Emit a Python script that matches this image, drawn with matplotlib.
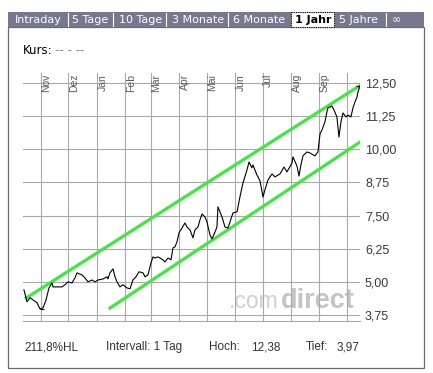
import numpy as np
import pandas as pd
import matplotlib
matplotlib.use("Agg")
import matplotlib.pyplot as plt
import matplotlib.transforms as mtransforms
from matplotlib.patches import Rectangle

# price series: days after 2006-11-01, closing price
day = [-18.6, -15.3, -12.0, -8.7, -4.4, -1.1, 2.2, 5.5, 8.7, 12.0, 13.1, 18.6, 22.9, 26.2,
       29.5, 33.8, 37.1, 39.3, 44.8, 48.0, 51.3, 55.7, 59.0, 62.2, 67.7, 72.1, 73.1, 75.3,
       78.6, 80.8, 83.0, 86.2, 89.5, 93.9, 97.2, 100.4, 103.7, 107.0, 111.4, 113.5, 116.8,
       120.1, 122.3, 124.5, 127.7, 129.9, 133.2, 135.4, 138.6, 141.9, 144.1, 146.3, 148.5,
       150.7, 153.9, 157.2, 159.4, 162.7, 165.9, 168.1, 171.4, 173.6, 175.8, 179.0, 181.2,
       184.5, 186.7, 190.0, 192.1, 193.2, 197.6, 200.9, 204.1, 209.6, 214.0, 217.2, 220.5,
       224.9, 227.1, 230.3, 231.4, 235.8, 239.1, 242.4, 244.5, 247.8, 252.2, 255.5, 260.9,
       265.3, 268.6, 274.0, 275.1, 279.5, 281.7, 283.8, 286.0, 290.4, 293.7, 299.1, 302.4,
       304.6, 306.8, 310.0, 312.2, 313.3, 317.7, 319.9, 323.1, 325.3, 327.5, 329.7, 333.0,
       335.2, 338.4, 340.6, 342.8, 345.0, 346.1, 348.3]
kurs = [4.70, 4.25, 4.40, 4.32, 4.21, 3.98, 4.02, 4.32, 4.77, 4.96, 4.81, 4.81, 4.81, 4.89,
        5.00, 4.96, 5.15, 5.34, 5.26, 5.15, 5.00, 5.07, 5.00, 5.07, 5.11, 5.19, 5.11, 5.34,
        5.49, 5.19, 5.00, 4.81, 4.89, 4.77, 4.74, 5.07, 5.19, 5.38, 5.34, 5.19, 5.26,
        5.72, 5.94, 5.90, 5.94, 5.90, 5.83, 5.75, 5.90, 5.83, 6.28, 6.32, 6.51,
        6.85, 7.03, 7.22, 7.07, 6.96, 6.66, 6.96, 7.07, 7.34, 7.56, 7.45, 7.26,
        6.77, 6.62, 6.88, 7.07, 7.83, 7.45, 7.07, 7.03, 7.60, 7.64, 8.20, 8.73,
        9.22, 9.52, 9.30, 9.41, 9.03, 8.81, 8.20, 8.47, 8.84, 9.07, 8.96, 9.07,
        9.33, 9.15, 9.48, 9.71, 9.37, 8.99, 9.41, 9.75, 9.90, 9.86, 9.75, 9.90,
        10.58, 10.73, 11.03, 11.41, 11.56, 11.63, 11.48, 11.22, 10.46, 11.03, 11.37, 11.22,
        11.29, 11.22, 11.56, 11.78, 11.97, 12.16, 12.38]

# trend channel
upper_day = [-17.5, 349.0]
upper_val = [4.36, 12.42]
lower_day = [74.0, 350.0]
lower_val = [3.98, 10.31]

hoch = 12.38
tief = 3.97
hoch_day = [344.0, 350.5]
tief_day = [-1.5, 3.5]

monate = ["Nov", "Dez", "Jan", "Feb", "Mär", "Apr", "Mai", "Jun", "Jul", "Aug", "Sep"]
kurs_ticks = [3.75, 5.00, 6.25, 7.50, 8.75, 10.00, 11.25, 12.50]
tabs = ["Intraday", "5 Tage", "10 Tage", "3 Monate", "6 Monate", "1 Jahr", "5 Jahre", "\u221e"]

start = pd.Timestamp("2006-11-01")
def to_date(d):
    return start + pd.to_timedelta(np.asarray(d), unit="D")

W, H = 433, 373
fig = plt.figure(figsize=(W / 100, H / 100), dpi=100)

# background layer in pixel coordinates
bg = fig.add_axes([0, 0, 1, 1])
bg.set_xlim(0, W)
bg.set_ylim(H, 0)
bg.axis("off")

bg.add_patch(Rectangle((8, 27), 416, 341, fill=False, ec="#6a6a6a", lw=0.9))
bg.add_patch(Rectangle((8, 12), 416, 15, fc="#77778f", ec="none"))
tab_x = [15, 72, 119, 172, 233, 295, 339, 392]
for x in [68, 113, 166, 228, 386]:
    bg.plot([x, x], [13, 26], color="white", lw=0.8)
bg.add_patch(Rectangle((291, 12), 43, 15, fc="white", ec="black", lw=0.8, ls=(0, (1, 1))))
for t, x in zip(tabs, tab_x):
    sel = t == "1 Jahr"
    bg.text(x, 20, t, fontsize=8, family="DejaVu Sans", va="center", ha="left",
            color="black" if sel else "white", fontweight="bold" if sel else "normal")

bg.text(23, 51, "Kurs:", fontsize=8.5, family="DejaVu Sans", va="center", color="black")
bg.text(55, 51, "-- - --", fontsize=8.5, family="DejaVu Sans", va="center", color="#888888")

# watermark
bg.text(229, 308, ".com", fontsize=16.5, family="Liberation Sans", color="#d0d0d0",
        va="baseline")
bg.text(355, 308, "direct", fontsize=19.5, family="Liberation Sans", fontweight="bold",
        color="#c4c4c4", va="baseline", ha="right")

info = [(24, "211,8%HL"), (106, "Intervall: 1 Tag"), (209, "Hoch:"), (251, "12,38"),
        (306, "Tief:"), (337, "3,97")]
for x, t in info:
    bg.text(x, 347, t, fontsize=8.5, family="Liberation Sans", va="center", color="#333333")

# chart
ax = fig.add_axes([23 / W, 1 - 321 / H, (360 - 23) / W, (321 - 73) / H])
ax.set_facecolor("none")
grid_c = "#a9a9a9"

month_starts = pd.date_range("2006-11-01", "2007-10-01", freq="MS")
ax.set_xticks(month_starts)
ax.set_yticks(kurs_ticks)
ax.set_yticklabels([f"{v:.2f}".replace(".", ",") for v in kurs_ticks])
ax.grid(True, color=grid_c, lw=0.8)
ax.set_axisbelow(True)
ax.yaxis.tick_right()
ax.tick_params(axis="x", length=0, labelbottom=False)
ax.tick_params(axis="y", length=0, pad=3.6, labelsize=9, labelcolor="#3a3a3a")
for lab in ax.get_yticklabels():
    lab.set_family("Liberation Sans")
for s in ["top", "left", "right"]:
    ax.spines[s].set_visible(False)
ax.spines["bottom"].set_color(grid_c)
ax.spines["bottom"].set_linewidth(0.8)

ax.set_xlim(to_date(-19.65), to_date(348.3))
ax.set_ylim(3.524, 12.877)

lab_tr = mtransforms.offset_copy(ax.get_xaxis_transform(), fig=fig, x=5.5, y=0, units="dots")
for m, name in zip(month_starts, monate):
    ax.text(m, 0.996, name, rotation=90, ha="center", va="top", fontsize=7.5,
            family="Liberation Sans", color="#5a5a5a", transform=lab_tr)

ax.plot(to_date(upper_day), upper_val, color="#3fe83f", lw=2.3, solid_capstyle="butt")
ax.plot(to_date(lower_day), lower_val, color="#3fe83f", lw=2.3, solid_capstyle="butt")
ax.plot(to_date(day), kurs, color="black", lw=0.8)
ax.hlines([tief], to_date(tief_day[0]), to_date(tief_day[1]), color="black", lw=0.8)
ax.hlines([hoch], to_date(hoch_day[0]), to_date(hoch_day[1]), color="black", lw=0.8)

fig.savefig("out.png", dpi=100)
